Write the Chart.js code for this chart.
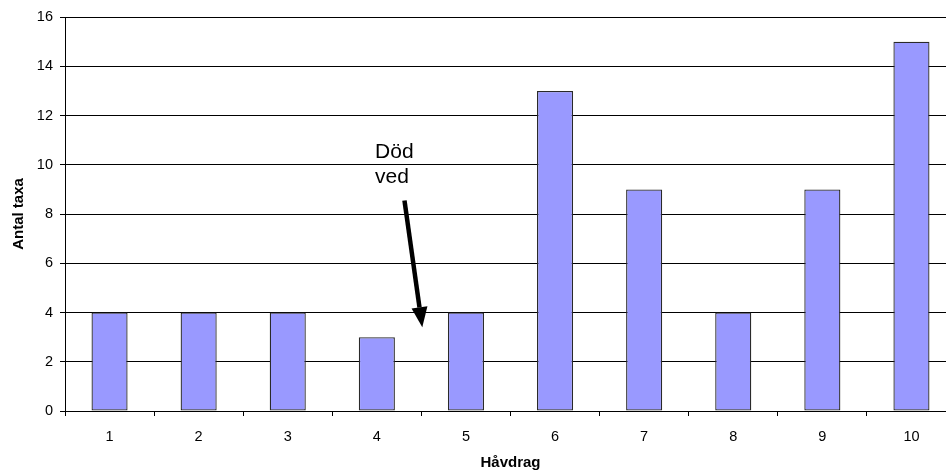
<!DOCTYPE html>
<html>
<head>
<meta charset="utf-8">
<script src="https://cdn.jsdelivr.net/npm/chart.js@4"></script>
<style>
  html, body { margin: 0; padding: 0; background: #fff; overflow: hidden; }
  #wrap { width: 962px; height: 472px; position: relative; }
  canvas { display: block; }
</style>
</head>
<body>
<div id="wrap"><canvas id="c" width="962" height="472"></canvas></div>
<script>
// Number of taxa per sweep-net sample
const categories = ['1', '2', '3', '4', '5', '6', '7', '8', '9', '10'];
const antalTaxa = [4, 4, 4, 3, 4, 13, 9, 4, 9, 15];
const yTicks = [0, 2, 4, 6, 8, 10, 12, 14, 16];

const xTitle = 'Håvdrag';
const yTitle = 'Antal taxa';
const noteLines = ['Död', 'ved'];

const FONT = '"Liberation Sans", Arial, sans-serif';

// Text note with arrow pointing at the gap between sample 4 and 5,
// placed in data space (category index / y value)
const note = {
  text: { x: 2.98, y: 10.28, lineGap: 1.03 },
  arrow: { fromX: 3.31, fromY: 8.55, toX: 3.51, toY: 3.4 }
};

const notePlugin = {
  id: 'dodVedNote',
  afterDatasetsDraw(chart) {
    const { ctx, scales: { x, y } } = chart;
    const px = v => x.getPixelForValue(0) + v * (x.getPixelForValue(1) - x.getPixelForValue(0));
    ctx.save();
    ctx.fillStyle = '#000';
    ctx.font = '21px ' + FONT;
    ctx.textAlign = 'left';
    ctx.textBaseline = 'alphabetic';
    const tx = px(note.text.x);
    ctx.fillText(noteLines[0], tx, y.getPixelForValue(note.text.y));
    ctx.fillText(noteLines[1], tx, y.getPixelForValue(note.text.y - note.text.lineGap));

    const x1 = px(note.arrow.fromX), y1 = y.getPixelForValue(note.arrow.fromY);
    const x2 = px(note.arrow.toX), y2 = y.getPixelForValue(note.arrow.toY);
    const ang = Math.atan2(y2 - y1, x2 - x1);
    const headLen = 20, headHalf = 8;
    const bx = x2 - headLen * Math.cos(ang), by = y2 - headLen * Math.sin(ang);
    ctx.strokeStyle = '#000';
    ctx.lineWidth = 4.5;
    ctx.lineCap = 'butt';
    ctx.beginPath();
    ctx.moveTo(x1, y1);
    ctx.lineTo(bx, by);
    ctx.stroke();
    ctx.beginPath();
    ctx.moveTo(x2, y2);
    ctx.lineTo(bx + headHalf * Math.sin(ang), by - headHalf * Math.cos(ang));
    ctx.lineTo(bx - headHalf * Math.sin(ang), by + headHalf * Math.cos(ang));
    ctx.closePath();
    ctx.fill();
    ctx.restore();
  }
};

new Chart(document.getElementById('c'), {
  type: 'bar',
  data: {
    labels: categories,
    datasets: [{
      data: antalTaxa,
      backgroundColor: '#9999FF',
      borderColor: '#2a2a2a',
      borderWidth: 1.3,
      borderSkipped: false,
      categoryPercentage: 1.0,
      barPercentage: 0.405
    }]
  },
  options: {
    responsive: false,
    maintainAspectRatio: false,
    animation: false,
    devicePixelRatio: 1,
    layout: { padding: { top: 17, right: 6, left: 0, bottom: 0 } },
    plugins: {
      legend: { display: false },
      tooltip: { enabled: false }
    },
    scales: {
      x: {
        offset: true,
        grid: {
          offset: true,
          drawOnChartArea: false,
          drawTicks: true,
          tickLength: 5,
          color: '#000',
          lineWidth: 1
        },
        border: { display: true, color: '#000', width: 1 },
        ticks: {
          color: '#000',
          font: { family: FONT, size: 14.5 },
          padding: 12,
          maxRotation: 0,
          autoSkip: false
        },
        title: {
          display: true,
          text: xTitle,
          color: '#000',
          font: { family: FONT, size: 15, weight: 'bold' },
          padding: { top: 8, bottom: 0 }
        },
        afterFit(scale) { scale.height = 61; }
      },
      y: {
        min: 0,
        max: 16,
        afterBuildTicks(scale) { scale.ticks = yTicks.map(v => ({ value: v })); },
        grid: {
          color: '#000',
          lineWidth: 1,
          drawTicks: true,
          tickLength: 5
        },
        border: { display: true, color: '#000', width: 1 },
        ticks: {
          color: '#000',
          font: { family: FONT, size: 14.5 },
          padding: 7,
          autoSkip: false
        },
        title: {
          display: true,
          text: yTitle,
          color: '#000',
          font: { family: FONT, size: 15, weight: 'bold' },
          padding: { top: 10, bottom: 0 }
        },
        afterFit(scale) { scale.width = 65; }
      }
    }
  },
  plugins: [notePlugin]
});
</script>
</body>
</html>
